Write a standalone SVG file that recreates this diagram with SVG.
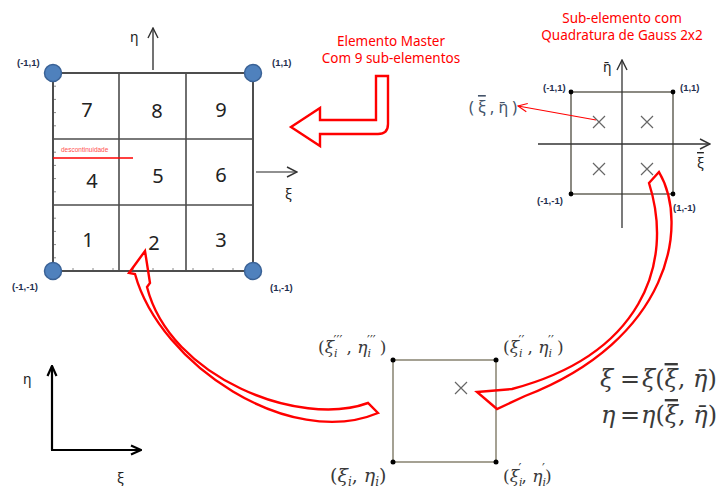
<svg xmlns="http://www.w3.org/2000/svg" width="720" height="489" viewBox="0 0 720 489">
<defs>
<style>
.grid{fill:none;stroke:#4d4d4d;stroke-width:1.6}
.tick{fill:none;stroke:#8a8a8a;stroke-width:1}
.num{font-family:"Noto Sans","DejaVu Sans",sans-serif;font-size:20px;fill:#222;text-anchor:middle}
.corner{font-family:"Liberation Sans","Noto Sans",sans-serif;font-size:9.5px;font-weight:bold;fill:#1f2f4f}
.title{font-family:"Noto Sans","DejaVu Sans",sans-serif;font-size:13.5px;fill:#ff0000;text-anchor:middle}
.greek{font-family:"Noto Sans","DejaVu Sans",sans-serif;font-size:14px;fill:#222}
.math{font-family:"DejaVu Serif","Liberation Serif",serif;fill:#3a3a3a}
.it{font-style:italic}
.bar{text-decoration:overline}
.blk{fill:none;stroke:#ff0000;stroke-width:2.4;stroke-linejoin:miter}
.cross{stroke:#666;stroke-width:1.2}
.dot{fill:#000}
.blue{fill:#4f81bd;stroke:#3a6296;stroke-width:1.5}
</style>
<marker id="chev" viewBox="0 0 12 12" refX="11" refY="6" markerWidth="12" markerHeight="12" markerUnits="userSpaceOnUse" orient="auto">
<path d="M1,1 L11,6 L1,11" fill="none" stroke="#333" stroke-width="1.4"/>
</marker>
<marker id="chevB" viewBox="0 0 12 12" refX="11" refY="6" markerWidth="12" markerHeight="12" markerUnits="userSpaceOnUse" orient="auto">
<path d="M1,1.5 L11,6 L1,10.5" fill="none" stroke="#000" stroke-width="2.2"/>
</marker>
<marker id="chevR" viewBox="0 0 12 12" refX="11" refY="6" markerWidth="11" markerHeight="11" markerUnits="userSpaceOnUse" orient="auto">
<path d="M1,1.5 L11,6 L1,10.5" fill="none" stroke="#ff0000" stroke-width="1.2"/>
</marker>
</defs>
<rect width="720" height="489" fill="#fff"/>

<g id="master-element">
<path class="tick" d="M53,86.2h3M53,99.4h3M53,112.6h3M53,125.8h3M53,152.2h3M53,165.4h3M53,178.6h3M53,191.8h3M53,218.2h3M53,231.4h3M53,244.6h3M53,257.8h3M73,271v-3M93,271v-3M113,271v-3M133,271v-3M153,271v-3M173,271v-3M193,271v-3M213,271v-3M233,271v-3"/>
<rect x="53" y="73" width="200" height="198" fill="none" stroke="#4d4d4d" stroke-width="2"/>
<path class="grid" d="M119,73V271M186,73V271M53,139H253M53,205H253"/>
<text class="num" x="87" y="117">7</text>
<text class="num" x="157" y="118">8</text>
<text class="num" x="221" y="117">9</text>
<text class="num" x="92" y="188">4</text>
<text class="num" x="158" y="183">5</text>
<text class="num" x="221" y="182">6</text>
<text class="num" x="88" y="247">1</text>
<text class="num" x="154" y="250">2</text>
<text class="num" x="221" y="247">3</text>
<text x="61" y="152" font-family="Liberation Sans, sans-serif" font-size="6.5" fill="#ff5050">descontinuidade</text>
<line x1="53" y1="158" x2="133" y2="158" stroke="#ff0000" stroke-width="1.5"/>
<circle class="blue" cx="53" cy="73" r="8.5"/>
<circle class="blue" cx="253" cy="73" r="8.5"/>
<circle class="blue" cx="53" cy="271" r="8.5"/>
<circle class="blue" cx="253" cy="271" r="8.5"/>
<text class="corner" x="17" y="66">(-1,1)</text>
<text class="corner" x="272" y="66">(1,1)</text>
<text class="corner" x="12" y="290">(-1,-1)</text>
<text class="corner" x="270" y="291">(1,-1)</text>
<line x1="153" y1="70" x2="153" y2="28" stroke="#444" stroke-width="1.5" marker-end="url(#chev)"/>
<text class="greek" x="130" y="42">η</text>
<line x1="256" y1="172" x2="297" y2="172" stroke="#222" stroke-width="1.2" marker-end="url(#chev)"/>
<text class="greek" x="285" y="199">ξ</text>
</g>

<g id="master-title">
<text class="title" x="391" y="46">Elemento Master</text>
<text class="title" x="391" y="63">Com 9 sub-elementos</text>
</g>

<g id="sub-element">
<text class="title" x="622" y="23">Sub-elemento com</text>
<text class="title" x="622" y="40">Quadratura de Gauss 2x2</text>
<rect x="571" y="92" width="102" height="102" fill="none" stroke="#3f3d30" stroke-width="1.2"/>
<line x1="622" y1="228" x2="622" y2="60" stroke="#333" stroke-width="1.3" marker-end="url(#chev)"/>
<line x1="538" y1="144" x2="710" y2="144" stroke="#333" stroke-width="1.3" marker-end="url(#chev)"/>
<path class="cross" d="M593,116l12,12M605,116l-12,12M641,116l12,12M653,116l-12,12M593,163l12,12M605,163l-12,12M641,163l12,12M653,163l-12,12"/>
<circle class="dot" cx="571" cy="92" r="2.4"/>
<circle class="dot" cx="673" cy="92" r="2.4"/>
<circle class="dot" cx="571" cy="194" r="2.4"/>
<circle class="dot" cx="673" cy="194" r="2.4"/>
<text class="corner" x="543" y="91">(-1,1)</text>
<text class="corner" x="680" y="91">(1,1)</text>
<text class="corner" x="537" y="204">(-1,-1)</text>
<text class="corner" x="673" y="211">(1,-1)</text>
<text class="greek" x="603" y="72" font-size="15">η̄</text>
<text class="greek" x="697" y="168" font-size="15"><tspan class="bar">ξ</tspan></text>
<text x="469" y="113" font-family="Noto Sans, DejaVu Sans, sans-serif" font-size="16" fill="#44546a">( <tspan class="bar">ξ</tspan> , η̄ )</text>
</g>

<g id="mapped-element">
<rect x="393" y="360" width="103" height="102" fill="none" stroke="#7f7a66" stroke-width="1.4"/>
<path class="cross" d="M455,382l12,12M467,382l-12,12"/>
<circle class="dot" cx="393" cy="360" r="2.5"/>
<circle class="dot" cx="496" cy="360" r="2.5"/>
<circle class="dot" cx="393" cy="462" r="2.5"/>
<circle class="dot" cx="496" cy="462" r="2.5"/>
<text class="math" x="318" y="353" font-size="17">(<tspan class="it">ξ</tspan><tspan font-size="11" class="it" dy="4">i</tspan><tspan font-size="13" dx="-4" dy="-12">′′′</tspan><tspan dx="4" dy="8">, </tspan><tspan class="it">η</tspan><tspan font-size="11" class="it" dy="4">i</tspan><tspan font-size="13" dx="-4" dy="-12">′′′</tspan><tspan dx="4" dy="8">)</tspan></text>
<text class="math" x="503" y="353" font-size="17">(<tspan class="it">ξ</tspan><tspan font-size="11" class="it" dy="4">i</tspan><tspan font-size="13" dx="-4" dy="-12">′′</tspan><tspan dx="3" dy="8">, </tspan><tspan class="it">η</tspan><tspan font-size="11" class="it" dy="4">i</tspan><tspan font-size="13" dx="-4" dy="-12">′′</tspan><tspan dx="3" dy="8">)</tspan></text>
<text class="math" x="330" y="482" font-size="19">(<tspan class="it">ξ</tspan><tspan font-size="12" class="it" dy="4">i</tspan><tspan dy="-4">, </tspan><tspan class="it">η</tspan><tspan font-size="12" class="it" dy="4">i</tspan><tspan dy="-4">)</tspan></text>
<text class="math" x="503" y="482" font-size="17">(<tspan class="it">ξ</tspan><tspan font-size="11" class="it" dy="4">i</tspan><tspan font-size="13" dx="-4" dy="-13">′</tspan><tspan dy="9">, </tspan><tspan class="it">η</tspan><tspan font-size="11" class="it" dy="4">i</tspan><tspan font-size="13" dx="-4" dy="-13">′</tspan><tspan dy="9">)</tspan></text>
</g>

<g id="equations">
<text class="math" x="600" y="387" font-size="24"><tspan class="it">ξ</tspan><tspan x="620">=</tspan><tspan x="642" class="it">ξ</tspan>(<tspan class="it bar">ξ</tspan>, <tspan class="it">η̄</tspan>)</text>
<text class="math" x="601" y="423" font-size="24"><tspan class="it">η</tspan><tspan x="620">=</tspan><tspan x="641" class="it">η</tspan>(<tspan class="it bar">ξ</tspan>, <tspan class="it">η̄</tspan>)</text>
</g>

<g id="global-axes">
<line x1="52" y1="450" x2="52" y2="366" stroke="#000" stroke-width="2.2" marker-end="url(#chevB)"/>
<line x1="51" y1="450" x2="141" y2="450" stroke="#000" stroke-width="2.2" marker-end="url(#chevB)"/>
<text class="greek" x="23" y="384" font-size="18">η</text>
<text class="greek" x="117" y="483" font-size="18">ξ</text>
</g>

<g id="connectors">
<path class="blk" d="M376,76 H388 V124 Q388,134 378,134 H320 V146 L291,127 L320,108 V120 H376 Z" fill="#fff" stroke-width="2.8"/>
<path class="blk" d="M135,274 C160,365 290,450 378,413 L368,403 C300,428 170,378 147,287 L150,283 L145,251 L129,273 Z" fill="#fff"/>
<path class="blk" d="M649,183 L659,172 C690,225 670,340 525,396 L497,409 L477,392 L512,389 C640,355 675,265 649,183 Z" fill="#fff"/>
<line x1="596" y1="120" x2="518" y2="106" stroke="#ff0000" stroke-width="1.1" marker-end="url(#chevR)"/>
</g>
</svg>
